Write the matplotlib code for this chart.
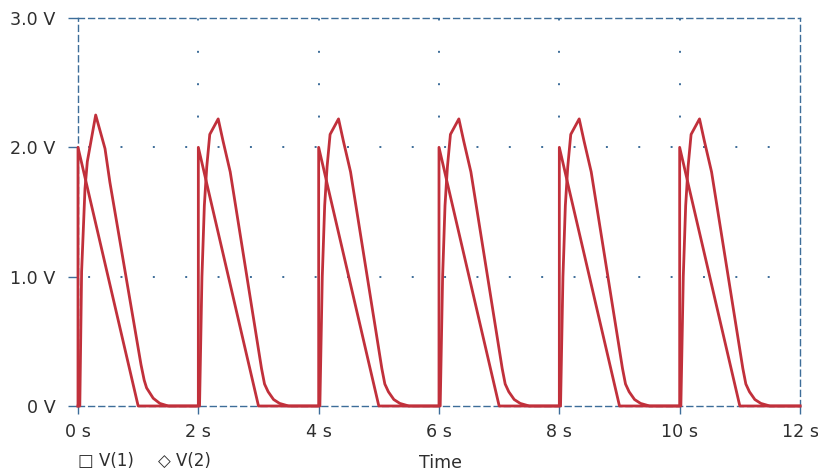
import matplotlib
matplotlib.use("Agg")
import matplotlib.pyplot as plt

plt.rcParams["font.family"] = ["DejaVu Sans"]
plt.rcParams["lines.scale_dashes"] = False

# ---------------------------------------------------------------------------
# Data
# ---------------------------------------------------------------------------
v1_t = [0.0, 0.0, 1.0, 2.0, 2.0, 3.0, 4.0, 4.0, 5.0, 6.0, 6.0, 7.0,
        8.0, 8.0, 9.0, 10.0, 10.0, 11.0, 12.0]
v1_v = [0.0, 2.0, 0.0, 0.0, 2.0, 0.0, 0.0, 2.0, 0.0, 0.0, 2.0, 0.0,
        0.0, 2.0, 0.0, 0.0, 2.0, 0.0, 0.0]

v2_t = [0.00, 0.03, 0.06, 0.116, 0.155, 0.294, 0.449, 0.53, 1.047, 1.10, 1.14, 1.25, 1.36, 1.50,
        2.02, 2.06, 2.10, 2.14, 2.19, 2.33, 2.41, 2.53, 3.05, 3.10, 3.16, 3.25, 3.35, 3.50,
        4.02, 4.06, 4.10, 4.14, 4.19, 4.33, 4.41, 4.53, 5.05, 5.10, 5.16, 5.25, 5.35, 5.50,
        6.02, 6.06, 6.10, 6.14, 6.19, 6.33, 6.41, 6.53, 7.05, 7.10, 7.16, 7.25, 7.35, 7.50,
        8.02, 8.06, 8.10, 8.14, 8.19, 8.33, 8.41, 8.53, 9.05, 9.10, 9.16, 9.25, 9.35, 9.50,
        10.02, 10.06, 10.10, 10.14, 10.19, 10.33, 10.41, 10.53, 11.05, 11.10, 11.16, 11.25, 11.35, 11.50,
        12.0]
v2_v = [0.00, 0.00, 1.04, 1.68, 1.89, 2.25, 1.99, 1.73, 0.32, 0.20, 0.14, 0.06, 0.02, 0.00,
        0.00, 1.00, 1.55, 1.85, 2.10, 2.22, 2.05, 1.81, 0.29, 0.17, 0.11, 0.05, 0.02, 0.00,
        0.00, 1.00, 1.55, 1.85, 2.10, 2.22, 2.05, 1.81, 0.29, 0.17, 0.11, 0.05, 0.02, 0.00,
        0.00, 1.00, 1.55, 1.85, 2.10, 2.22, 2.05, 1.81, 0.29, 0.17, 0.11, 0.05, 0.02, 0.00,
        0.00, 1.00, 1.55, 1.85, 2.10, 2.22, 2.05, 1.81, 0.29, 0.17, 0.11, 0.05, 0.02, 0.00,
        0.00, 1.00, 1.55, 1.85, 2.10, 2.22, 2.05, 1.81, 0.29, 0.17, 0.11, 0.05, 0.02, 0.00,
        0.00]

x_ticks = [0, 2, 4, 6, 8, 10, 12]
x_labels = ["0 s", "2 s", "4 s", "6 s", "8 s", "10 s", "12 s"]
y_ticks = [0, 1, 2, 3]
y_labels = ["0 V", "1.0 V", "2.0 V", "3.0 V"]

# ---------------------------------------------------------------------------
# Style
# ---------------------------------------------------------------------------
TRACE = "#c1303b"
FRAME = "#3d6d99"
TEXT = "#2e2e2e"
FS = 12.6

fig = plt.figure(figsize=(8.18, 4.71), dpi=100)
ax = fig.add_axes([78 / 818, 65 / 471, 722 / 818, 388 / 471])
ax.set_xlim(0, 12)
ax.set_ylim(0, 3)

# dotted grid
for x in x_ticks[1:-1]:
    ax.axvline(x, color=FRAME, lw=1.4, linestyle=(2.0, (1.4, 21.9)), zorder=1)
for y in y_ticks[1:-1]:
    ax.axhline(y, color=FRAME, lw=1.4, linestyle=(16, (1.4, 21.9)), zorder=1)

ax.plot(v1_t, v1_v, color=TRACE, lw=2.0, zorder=3, clip_on=False)
ax.plot(v2_t, v2_v, color=TRACE, lw=2.0, zorder=3, clip_on=False)

for side in ("left", "right", "top", "bottom"):
    ax.spines[side].set_color(FRAME)
    ax.spines[side].set_linewidth(1.0)
    ax.spines[side].set_linestyle((0, (4.3, 3.0)))

ax.set_xticks(x_ticks)
ax.set_xticklabels(x_labels)
ax.set_yticks(y_ticks)
ax.set_yticklabels(y_labels)
ax.tick_params(axis="x", direction="out", length=6, width=1.0, color=FRAME,
               labelsize=FS, labelcolor=TEXT, pad=6)
ax.tick_params(axis="y", direction="out", length=7, width=1.0, color=FRAME,
               labelsize=FS, labelcolor=TEXT, pad=9)

fig.text(440 / 818, 1 - 463 / 471, "Time", ha="center", va="center",
         fontsize=FS, color=TEXT)
fig.text(78 / 818, 1 - 461 / 471, "\u25a1 V(1)", ha="left", va="center",
         fontsize=FS - 0.6, color=TEXT)
fig.text(158 / 818, 1 - 461 / 471, "\u25c7 V(2)", ha="left", va="center",
         fontsize=FS - 0.6, color=TEXT)

fig.savefig("out.png", dpi=100)
